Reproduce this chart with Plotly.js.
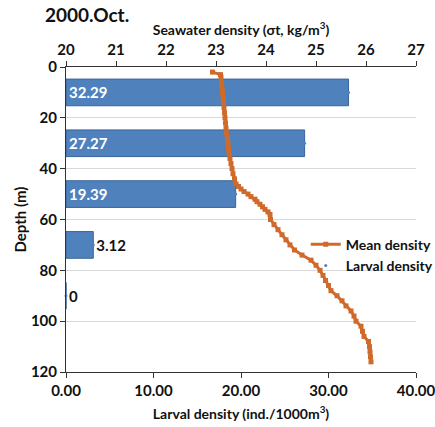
<!DOCTYPE html>
<html>
<head>
<meta charset="utf-8">
<script src="https://cdn.plot.ly/plotly-3.0.1.min.js"></script>
<style>html,body{margin:0;padding:0;background:#fff;}#chart{width:435px;height:427px;}</style>
</head>
<body>
<div id="chart"></div>
<script>
// Larval density bars (ind./1000m3) at sampling depths (m)
const sampleDepths = [10, 30, 50, 70, 90];
const larvalDensity = [32.29, 27.27, 19.39, 3.12, 0];
const larvalLabels = ["32.29", "27.27", "19.39", "3.12", "0"];

// Mean seawater density profile (sigma-t) vs depth (m)
const profileDepth = [2,3,4,6,8,10,12,14,16,18,20,22,24,26,28,30,32,34,36,38,40,42,44,46,47,48,49,50,51,52,53,54,55,56,57,58,60,62,64,66,68,70,72,74,76,78,80,82,84,86,88,90,92,94,96,98,100,102,104,106,108,110,112,114,116];
const meanDensity = [22.93,23.09,23.10,23.11,23.12,23.13,23.14,23.15,23.16,23.17,23.18,23.19,23.20,23.21,23.23,23.24,23.25,23.26,23.28,23.30,23.32,23.34,23.37,23.40,23.45,23.50,23.56,23.64,23.70,23.78,23.82,23.88,23.93,23.98,24.04,24.08,24.09,24.16,24.24,24.32,24.40,24.48,24.57,24.72,24.90,25.00,25.08,25.14,25.19,25.25,25.30,25.42,25.52,25.60,25.70,25.76,25.80,25.90,25.93,25.96,26.05,26.07,26.08,26.09,26.10];

const depthTicks = [0, 20, 40, 60, 80, 100, 120];
const larvalTicks = [0, 10, 20, 30, 40];
const seawaterTicks = [20, 21, 22, 23, 24, 25, 26, 27];

const FONT = "Lato, 'Open Sans', sans-serif";
const orange = "#CF6A2B";
const blue = "#4F81BD";
const bold = {family: FONT, color: "#111", weight: "bold"};

const traces = [
  {
    type: "bar", orientation: "h",
    x: larvalDensity, y: sampleDepths,
    width: 10.5,
    marker: {color: blue, line: {color: "#3A659A", width: 1}},
    text: larvalLabels,
    textposition: ["inside", "inside", "inside", "outside", "outside"],
    insidetextanchor: "start",
    insidetextfont: Object.assign({}, bold, {color: "#ffffff", size: 15}),
    outsidetextfont: Object.assign({}, bold, {size: 15}),
    constraintext: "none",
    cliponaxis: false,
    showlegend: false, hoverinfo: "skip",
    xaxis: "x", yaxis: "y"
  },
  {
    type: "scatter", mode: "lines+markers",
    name: "Mean density",
    x: meanDensity, y: profileDepth,
    line: {color: orange, width: 3},
    marker: {color: orange, symbol: "square", size: 5},
    xaxis: "x2", yaxis: "y"
  },
  {
    type: "scatter", mode: "markers",
    name: "Larval density",
    x: larvalDensity, y: sampleDepths,
    marker: {color: "#4F81BD", size: 3},
    cliponaxis: false,
    xaxis: "x", yaxis: "y"
  }
];

const layout = {
  width: 435, height: 427,
  margin: {l: 66, r: 19, t: 67, b: 55, pad: 0, autoexpand: false},
  paper_bgcolor: "#fff", plot_bgcolor: "#fff",
  font: {family: FONT, color: "#111", size: 13},
  title: {
    text: "<b>2000.Oct.</b>",
    font: {family: FONT, size: 19, color: "#111"},
    x: 45/435, xanchor: "left", xref: "container",
    y: 1 - 15/427, yanchor: "middle", yref: "container"
  },
  showlegend: true,
  legend: {
    x: 0.685, y: 0.47, xanchor: "left", yanchor: "top",
    bgcolor: "rgba(0,0,0,0)",
    font: Object.assign({}, bold, {size: 14}),
    itemwidth: 30, tracegroupgap: 0
  },
  bargap: 0,
  xaxis: {
    range: [0, 40], tickvals: larvalTicks, tickformat: ".2f",
    showgrid: false, zeroline: false,
    showline: true, linecolor: "#333", linewidth: 1,
    ticks: "outside", ticklen: 5, tickcolor: "#333",
    ticklabeloverflow: "allow",
    tickfont: Object.assign({}, bold, {size: 15}),
    title: {text: "Larval density (ind./1000m<sup>3</sup>)", standoff: 11,
            font: Object.assign({}, bold, {size: 14})},
    automargin: false,
    fixedrange: true
  },
  xaxis2: {
    range: [20, 27], tickvals: seawaterTicks,
    overlaying: "x", side: "top", anchor: "y",
    showgrid: false, zeroline: false,
    showline: true, linecolor: "#333", linewidth: 1,
    ticks: "outside", ticklen: 5, tickcolor: "#333",
    ticklabeloverflow: "allow",
    tickfont: Object.assign({}, bold, {size: 15}),
    title: {text: "Seawater density (σt, kg/m<sup>3</sup>)", standoff: 1,
            font: Object.assign({}, bold, {size: 14})},
    automargin: false,
    fixedrange: true
  },
  yaxis: {
    range: [120, 0], tickvals: depthTicks,
    showgrid: true, gridcolor: "#d9d9d9", gridwidth: 1,
    zeroline: false,
    showline: true, linecolor: "#333", linewidth: 1,
    ticks: "outside", ticklen: 5, tickcolor: "#333",
    tickfont: Object.assign({}, bold, {size: 15}),
    title: {text: "Depth (m)", standoff: 0,
            font: Object.assign({}, bold, {size: 15})},
    automargin: false,
    fixedrange: true
  }
};

Plotly.newPlot("chart", traces, layout, {displayModeBar: false, staticPlot: true});
</script>
</body>
</html>
